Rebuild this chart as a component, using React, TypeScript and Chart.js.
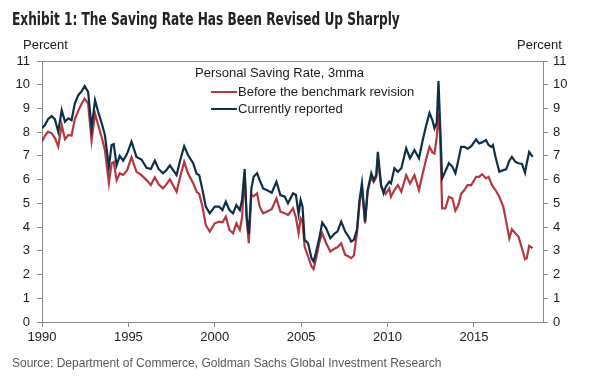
import React, { useEffect, useRef } from "react";
import { Chart, registerables } from "chart.js";

Chart.register(...registerables);

// ---- data (decimal years, percent) ----
const dates = [
  1990.0, 1990.17, 1990.35, 1990.56, 1990.75, 1990.94, 1991.14, 1991.33, 1991.52, 1991.71,
  1991.9, 1992.1, 1992.3, 1992.47, 1992.67, 1992.87, 1993.07, 1993.25, 1993.45, 1993.64,
  1993.87, 1994.03, 1994.15, 1994.32, 1994.5, 1994.7, 1994.93, 1995.18, 1995.47, 1995.76,
  1996.05, 1996.3, 1996.53, 1996.75, 1997.0, 1997.2, 1997.4, 1997.79, 1998.0, 1998.23,
  1998.45, 1998.75, 1998.95, 1999.1, 1999.29, 1999.48, 1999.71, 2000.0, 2000.25, 2000.45,
  2000.64, 2000.85, 2001.06, 2001.25, 2001.45, 2001.58, 2001.73, 2001.85, 2001.97, 2002.12,
  2002.25, 2002.45, 2002.6, 2002.8, 2003.0, 2003.3, 2003.57, 2003.8, 2004.05, 2004.24,
  2004.53, 2004.7, 2004.85, 2004.97, 2005.08, 2005.2, 2005.4, 2005.6, 2005.72, 2005.85,
  2006.07, 2006.22, 2006.45, 2006.69, 2006.95, 2007.1, 2007.32, 2007.55, 2007.75, 2007.9,
  2008.05, 2008.23, 2008.38, 2008.52, 2008.7, 2008.85, 2009.06, 2009.2, 2009.35, 2009.44,
  2009.63, 2009.77, 2009.9, 2010.1, 2010.2, 2010.4, 2010.6, 2010.8, 2011.08, 2011.3,
  2011.56, 2011.82, 2012.04, 2012.22, 2012.43, 2012.6, 2012.72, 2012.85, 2012.95, 2013.05,
  2013.16, 2013.35, 2013.55, 2013.75, 2013.93, 2014.1, 2014.26, 2014.45, 2014.64, 2014.85,
  2015.13, 2015.3, 2015.47, 2015.7, 2015.85, 2016.0, 2016.1, 2016.25, 2016.47, 2016.7,
  2016.87, 2017.05, 2017.2, 2017.4, 2017.58, 2017.78, 2017.96, 2018.06, 2018.2, 2018.4,
];

const beforeRevision = [
  7.6, 7.85, 8.02, 7.95, 7.75, 7.39, 8.3, 7.7, 7.88, 7.85,
  8.55, 8.9, 9.21, 9.42, 9.2, 7.64, 8.79, 8.3, 7.8, 7.25,
  5.85, 6.69, 6.75, 5.98, 6.27, 6.2, 6.4, 6.95, 6.33, 6.19,
  5.98, 5.77, 6.1, 5.8, 5.63, 5.8, 6.01, 5.49, 6.12, 6.75,
  6.27, 5.85, 5.49, 5.4, 4.86, 4.09, 3.81, 4.16, 4.23, 4.2,
  4.44, 3.88, 3.74, 4.16, 3.88, 4.4, 6.27, 4.3, 3.32, 5.35,
  5.3, 5.42, 4.86, 4.58, 4.65, 4.75, 5.21, 4.65, 4.58, 4.51,
  4.79, 4.4, 3.74, 4.37, 4.23, 3.18, 2.76, 2.34, 2.23, 2.62,
  3.4, 3.74, 3.32, 2.97, 3.1, 3.15, 3.32, 2.83, 2.76, 2.69,
  2.8, 3.74, 5.0, 5.63, 4.16, 5.5, 6.12, 5.9, 6.1, 6.9,
  5.7, 5.56, 5.4, 5.63, 5.28, 5.56, 5.77, 5.49, 6.19, 5.84,
  6.19, 5.56, 6.27, 6.82, 7.38, 7.15, 7.1, 7.8, 8.79, 7.8,
  4.79, 4.79, 5.28, 5.21, 4.69, 4.93, 5.4, 5.56, 5.77, 5.77,
  6.12, 6.12, 6.23, 6.05, 6.12, 5.85, 5.7, 5.56, 5.28, 4.86,
  4.23, 3.53, 3.91, 3.74, 3.6, 3.11, 2.65, 2.69, 3.21, 3.11,
];

const currentlyReported = [
  8.16, 8.3, 8.55, 8.68, 8.54, 8.02, 8.93, 8.44, 8.58, 8.5,
  9.21, 9.56, 9.73, 9.94, 9.7, 8.16, 9.35, 8.86, 8.4, 7.88,
  6.54, 7.46, 7.5, 6.61, 7.0, 6.8, 7.1, 7.6, 6.96, 6.85,
  6.5, 6.45, 6.8, 6.45, 6.27, 6.4, 6.6, 6.19, 6.82, 7.41,
  7.04, 6.69, 6.25, 6.19, 5.56, 4.86, 4.58, 4.86, 4.86, 4.72,
  5.07, 4.72, 4.58, 4.93, 4.72, 5.14, 6.45, 4.4, 3.7, 5.63,
  6.12, 6.27, 5.98, 5.63, 5.56, 5.45, 5.91, 5.35, 5.28, 5.0,
  5.42, 5.35, 4.55, 5.14, 4.86, 3.46, 3.32, 2.69, 2.55, 2.9,
  3.6, 4.19, 3.95, 3.53, 3.74, 3.81, 4.23, 3.81, 3.6, 3.39,
  3.46, 3.88, 5.14, 5.85, 4.23, 5.56, 6.27, 5.98, 6.2, 7.17,
  5.77, 5.42, 5.7, 5.91, 5.84, 6.48, 6.33, 6.48, 7.32, 6.9,
  7.25, 6.9, 7.67, 8.23, 8.81, 8.5, 8.16, 8.4, 10.16, 8.23,
  6.05, 6.35, 6.69, 6.55, 6.27, 6.82, 7.38, 7.38, 7.3, 7.41,
  7.7, 7.53, 7.57, 7.67, 7.46, 7.38, 7.46, 6.96, 6.33, 6.4,
  6.43, 6.8, 6.96, 6.75, 6.69, 6.66, 6.29, 6.69, 7.17, 6.96,
];

const xTickValues = [1990, 1995, 2000, 2005, 2010, 2015];
const yTickValues = [0, 1, 2, 3, 4, 5, 6, 7, 8, 9, 10, 11];
const seriesLabels = ["Before the benchmark revision", "Currently reported"];
const legendTitle = "Personal Saving Rate, 3mma";
const titleText = "Exhibit 1: The Saving Rate Has Been Revised Up Sharply";
const unitText = "Percent";
const sourceText =
  "Source: Department of Commerce, Goldman Sachs Global Investment Research";

// ---- styles ----
const RED = "#b5383f";
const NAVY = "#0f2e48";
const AXIS = "#8a8a8a";
const TEXT = "#1c1c1c";
const FONT = "'Liberation Sans', Arial, sans-serif";

const frameTop = {
  id: "frameTop",
  afterDraw(chart: any) {
    const { ctx, chartArea: a } = chart;
    ctx.save();
    ctx.strokeStyle = AXIS;
    ctx.lineWidth = 1;
    ctx.beginPath();
    ctx.moveTo(a.left, Math.round(a.top) + 0.5);
    ctx.lineTo(a.right, Math.round(a.top) + 0.5);
    ctx.stroke();
    ctx.restore();
  },
};

function yScale(position: "left" | "right", width: number, pad: number) {
  return {
    type: "linear",
    position,
    min: 0,
    max: 11,
    afterBuildTicks: (s: any) => {
      s.ticks = yTickValues.map((v) => ({ value: v }));
    },
    afterFit: (s: any) => {
      s.width = width;
    },
    ticks: {
      color: TEXT,
      font: { family: FONT, size: 13 },
      padding: pad,
      callback: (v: any) => String(v),
    },
    grid: {
      drawOnChartArea: false,
      drawTicks: true,
      tickLength: 5,
      color: AXIS,
    },
    border: { display: true, color: AXIS },
  };
}

export default function App() {
  const canvasRef = useRef<HTMLCanvasElement | null>(null);
  const titleRef = useRef<HTMLSpanElement | null>(null);

  useEffect(() => {
    if (titleRef.current) {
      const w = titleRef.current.offsetWidth;
      if (w > 0) titleRef.current.style.transform = `scaleX(${388 / w})`;
    }
    const canvas = canvasRef.current;
    if (!canvas) return;
    const chart = new Chart(canvas, {
      type: "line",
      data: {
        datasets: [
          {
            label: seriesLabels[1],
            data: dates.map((d, i) => ({ x: d, y: currentlyReported[i] })),
            borderColor: NAVY,
            borderWidth: 2.2,
            pointRadius: 0,
            tension: 0,
            order: 0,
          },
          {
            label: seriesLabels[0],
            data: dates.map((d, i) => ({ x: d, y: beforeRevision[i] })),
            borderColor: RED,
            borderWidth: 2.2,
            pointRadius: 0,
            tension: 0,
            order: 1,
          },
        ],
      },
      options: {
        animation: false,
        responsive: false,
        maintainAspectRatio: false,
        layout: { padding: { top: 61, left: 0, right: 0, bottom: 0 } },
        plugins: { legend: { display: false }, tooltip: { enabled: false } },
        scales: {
          x: {
            type: "linear",
            min: 1990,
            max: 2019,
            afterBuildTicks: (s: any) => {
              s.ticks = xTickValues.map((v) => ({ value: v }));
            },
            afterFit: (s: any) => {
              s.height = 58;
            },
            ticks: {
              color: TEXT,
              font: { family: FONT, size: 13 },
              padding: 3,
              maxRotation: 0,
              autoSkip: false,
              callback: (v: any) => String(v),
            },
            grid: {
              drawOnChartArea: false,
              drawTicks: true,
              tickLength: 5,
              color: AXIS,
            },
            border: { display: true, color: AXIS },
          },
          y: yScale("left", 42, 7) as any,
          y2: yScale("right", 53, 5) as any,
        },
      } as any,
      plugins: [frameTop],
    });
    return () => chart.destroy();
  }, []);

  const abs = (extra: React.CSSProperties): React.CSSProperties => ({
    position: "absolute",
    whiteSpace: "nowrap",
    fontFamily: FONT,
    fontSize: 13,
    lineHeight: "13px",
    color: TEXT,
    ...extra,
  });

  return (
    <div
      style={{
        position: "fixed",
        left: 0,
        top: 0,
        width: 596,
        height: 380,
        background: "#ffffff",
        overflow: "hidden",
      }}
    >
      <canvas
        ref={canvasRef}
        width={596}
        height={380}
        style={{ position: "absolute", left: 0, top: 0, width: 596, height: 380 }}
      />
      <span
        ref={titleRef}
        style={{
          position: "absolute",
          left: 12,
          top: 10,
          display: "inline-block",
          whiteSpace: "nowrap",
          fontFamily: "'Liberation Sans Narrow', 'DejaVu Sans Condensed', Arial, sans-serif",
          fontWeight: 700,
          fontSize: 18,
          lineHeight: "18px",
          color: "#222222",
          transformOrigin: "left top",
        }}
      >
        {titleText}
      </span>
      <div style={abs({ left: 23, top: 38 })}>{unitText}</div>
      <div style={abs({ left: 517, top: 38 })}>{unitText}</div>

      <div style={abs({ left: 195, top: 66 })}>{legendTitle}</div>
      <div style={abs({ left: 211, top: 91, width: 26, height: 2, background: RED })} />
      <div style={abs({ left: 238, top: 85 })}>{seriesLabels[0]}</div>
      <div style={abs({ left: 211, top: 108, width: 26, height: 2, background: NAVY })} />
      <div style={abs({ left: 238, top: 102 })}>{seriesLabels[1]}</div>

      <div
        style={abs({ left: 12, top: 357, fontSize: 12, lineHeight: "12px", color: "#595959" })}
      >
        {sourceText}
      </div>
    </div>
  );
}
